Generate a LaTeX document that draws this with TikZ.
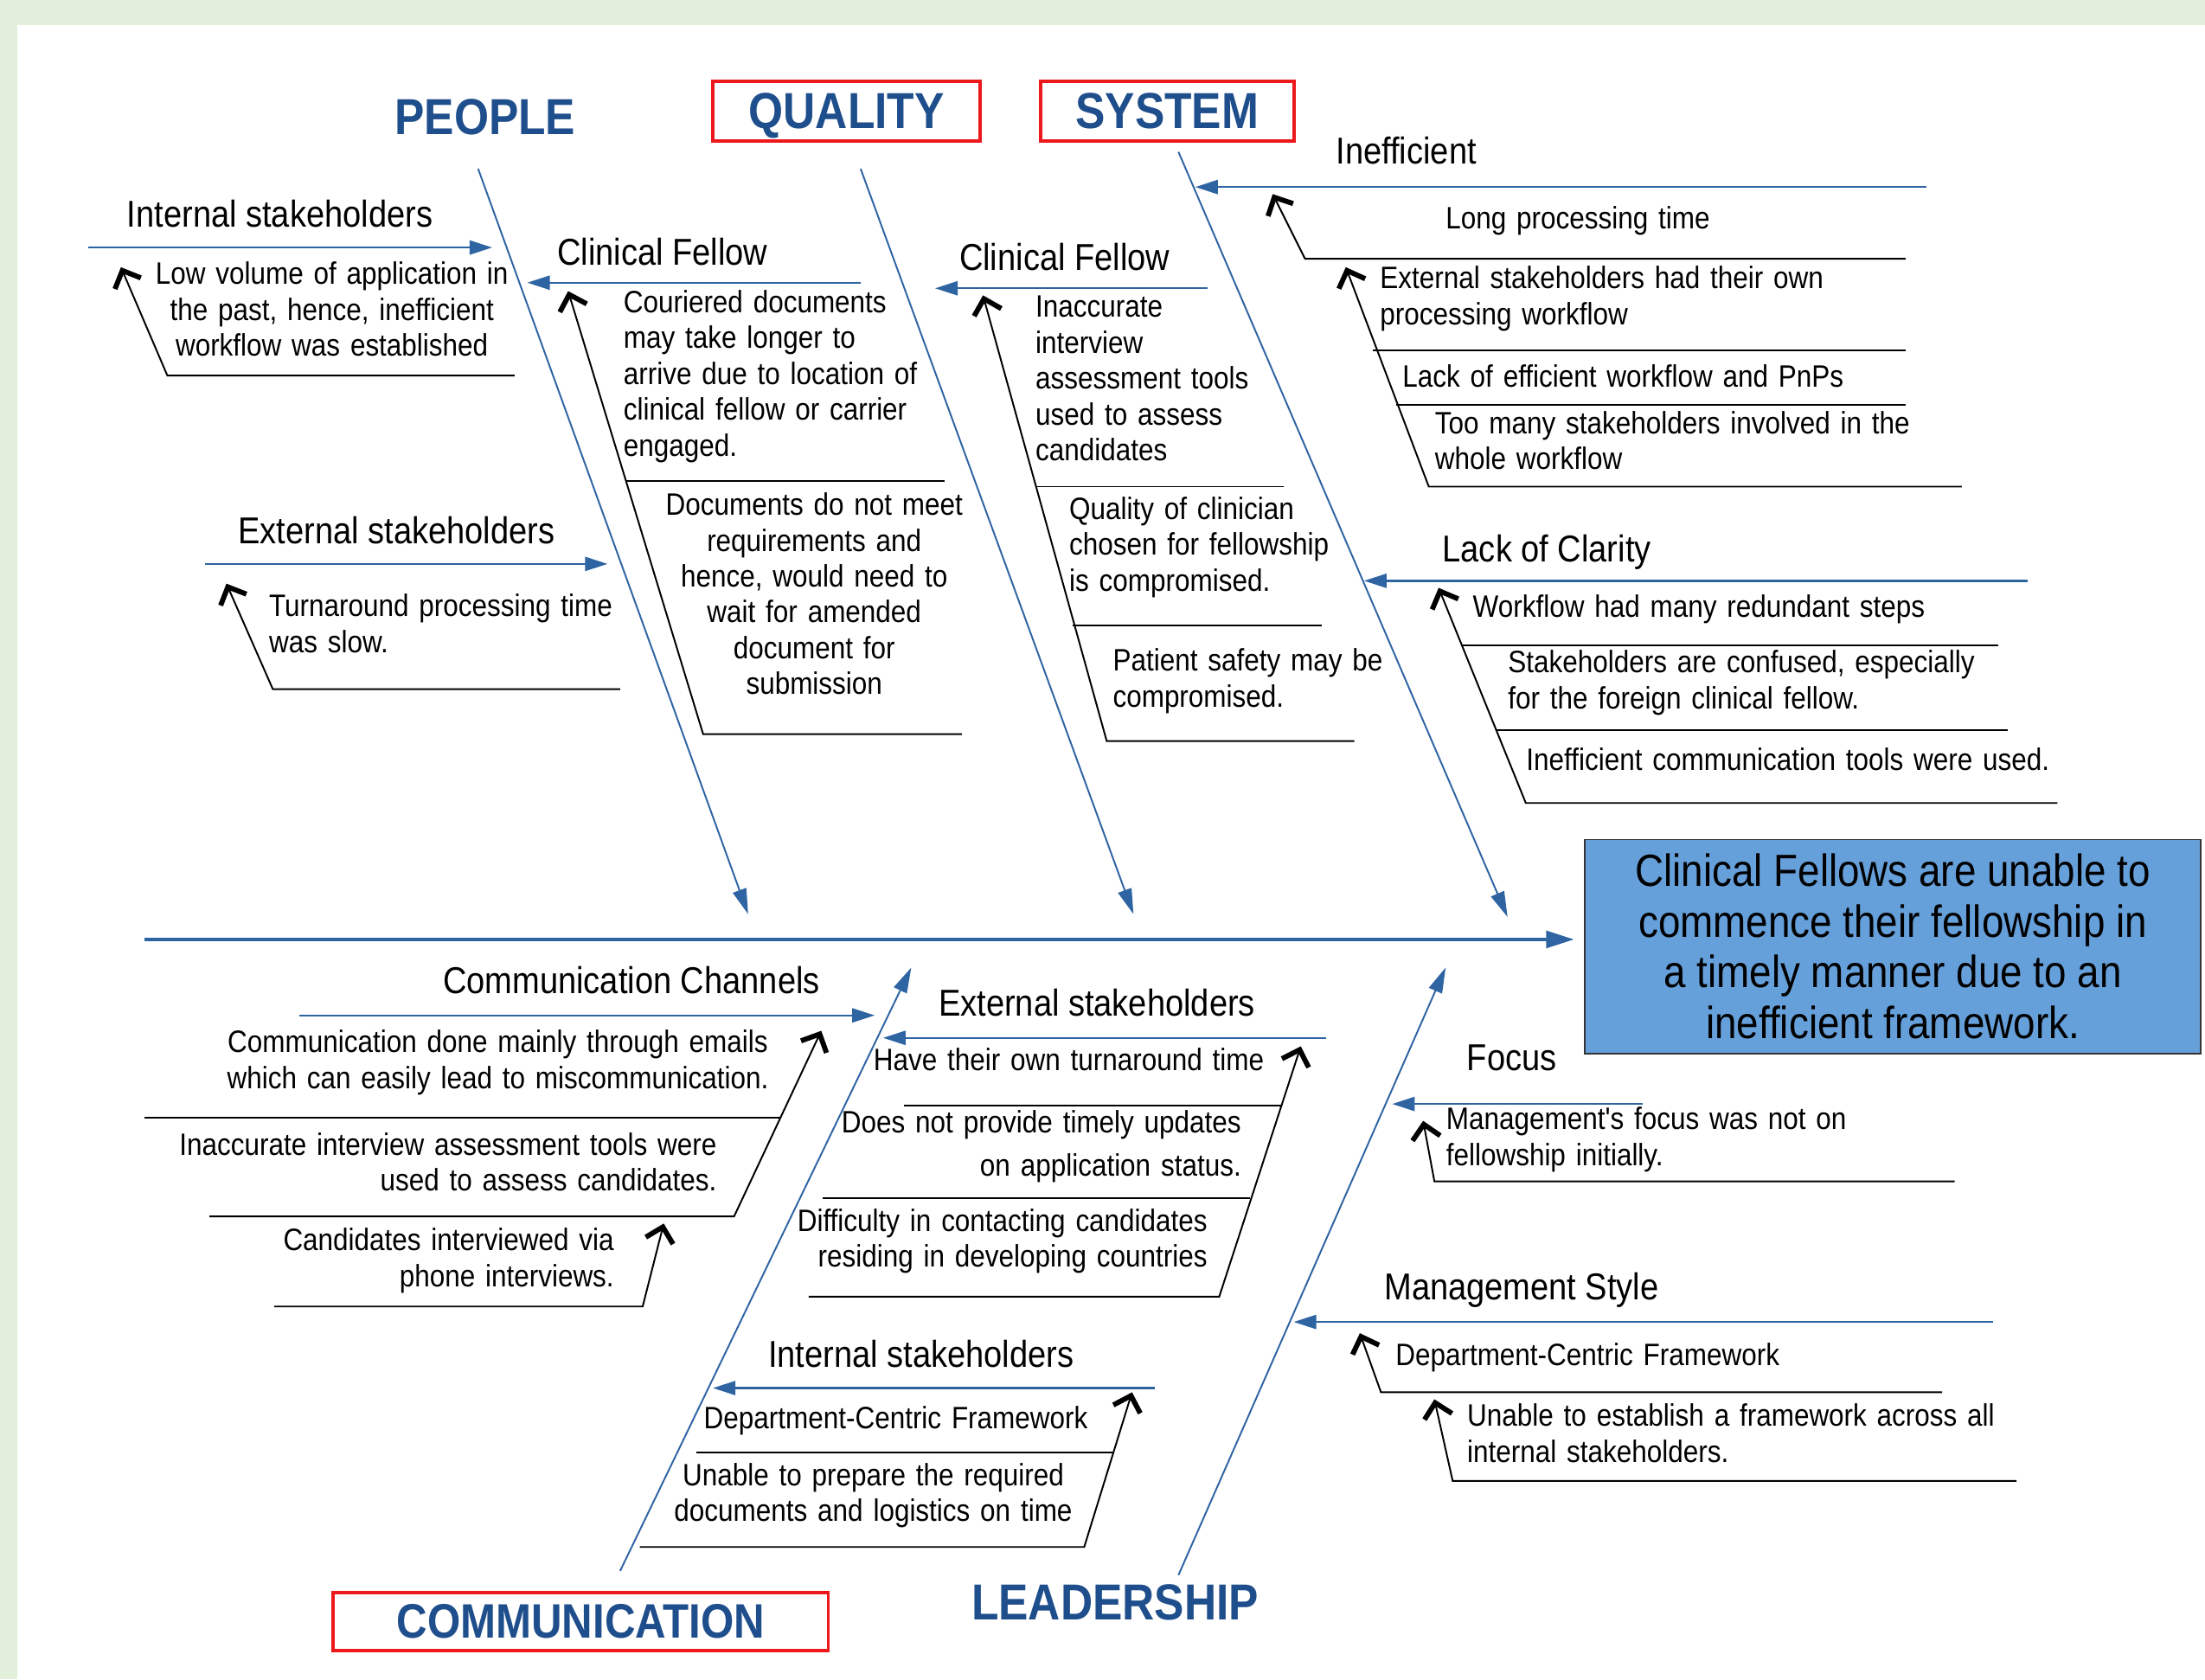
\documentclass[tikz,border=0pt]{standalone}
\usepackage{fontspec}
\setmainfont[FakeStretch=0.88]{Liberation Sans}
\newfontfamily\causefont[FakeStretch=0.88,WordSpace=1.35]{Liberation Sans}
\usetikzlibrary{arrows.meta}
\definecolor{bonecol}{RGB}{47,100,163}
\definecolor{catcol}{RGB}{31,78,140}
\definecolor{framecol}{RGB}{226,239,218}
\definecolor{effectcol}{RGB}{102,160,218}
\definecolor{redline}{RGB}{236,24,28}
\tikzset{
  bone/.style={draw=bonecol, line width=0.6pt, -{Triangle[length=9pt,width=5pt]}},
  subbone/.style={draw=bonecol, line width=0.7pt, -{Triangle[length=8pt,width=5pt]}},
  spine/.style={draw=bonecol, line width=1.3pt, -{Triangle[length=10pt,width=6pt]}, shorten >=3.5pt},
  branch/.style={draw=black, line width=0.6pt, -{Straight Barb[length=5pt,width=10pt,line width=1.8pt]}},
  rule/.style={draw=black, line width=0.6pt},
  catlbl/.style={font=\fontsize{18}{20}\selectfont\bfseries, text=catcol, inner sep=0pt, text depth=0pt},
  catbox/.style={catlbl, draw=redline, line width=1.2pt, minimum height=21pt},
  head/.style={font=\fontsize{13.3}{15}\selectfont, inner sep=0pt, anchor=base},
  cause/.style={font=\causefont\fontsize{11}{12.75}\selectfont, inner sep=0pt},
  effectbox/.style={fill=effectcol, draw=black!80, line width=0.6pt, minimum width=219pt,
    minimum height=76pt, align=center, inner sep=0pt, font=\fontsize{16}{18}\selectfont}
}
\begin{document}
\begin{tikzpicture}[x=0.5pt,y=-0.5pt]
\useasboundingbox (0,0) rectangle (1568,1194);
\fill[framecol] (0,0) rectangle (1568,1194);
\fill[white] (12,18) rectangle (1568,1194);

% categories and effect
\node[catlbl] (people) at (345,83) {PEOPLE};
\node[catbox, minimum width=95pt] (quality) at (602,79) {QUALITY};
\node[catbox, minimum width=90pt] (system) at (830,79) {SYSTEM};
\node[catbox, minimum width=176pt, minimum height=20.5pt, font=\fontsize{17.2}{18}\selectfont\bfseries] (communication) at (413,1153) {COMMUNICATION};
\node[catlbl] (leadership) at (793,1139) {LEADERSHIP};
\node[effectbox] (effect) at (1346,673) {Clinical Fellows are unable to\\commence their fellowship in\\a timely manner due to an\\inefficient framework.};

% main bones
\coordinate (spineL) at (103,668);
\coordinate (pplA) at (340,120); \coordinate (pplB) at (532,650);
\coordinate (qalA) at (612,120); \coordinate (qalB) at (806,650);
\coordinate (sysA) at (838,108); \coordinate (sysB) at (1072,652);
\coordinate (comA) at (441,1117); \coordinate (comB) at (648,688);
\coordinate (ldrA) at (838,1120); \coordinate (ldrB) at (1028,688);
\draw[spine] (spineL) -- (spineL -| effect.west);
\draw[bone] (pplA) -- (pplB);
\draw[bone] (qalA) -- (qalB);
\draw[bone] (sysA) -- (sysB);
\draw[bone] (comA) -- (comB);
\draw[bone] (ldrA) -- (ldrB);

% PEOPLE
\node[head] (p1head) at (199,161.5) {Internal stakeholders};
\coordinate (p1s) at (63,176); \coordinate (p1e) at (350,176);
\draw[subbone] (p1s) -- (p1e);
\coordinate (p1r) at (366,267); \coordinate (p1k) at (119,267); \coordinate (p1t) at (86,190);
\draw[branch] (p1r) -- (p1k) -- (p1t);
\node[cause, anchor=north, align=center] (p1a) at (236,186) {Low volume of application in\\the past, hence, inefficient\\workflow was established};

\node[head] (p2head) at (282,386.5) {External stakeholders};
\coordinate (p2s) at (146,401); \coordinate (p2e) at (432,401);
\draw[subbone] (p2s) -- (p2e);
\coordinate (p2r) at (441,490); \coordinate (p2k) at (194,490); \coordinate (p2t) at (161,415);
\draw[branch] (p2r) -- (p2k) -- (p2t);
\node[cause, anchor=north west, align=left] (p2a) at (191,422) {Turnaround processing time\\was slow.};

% QUALITY
\node[head] (q1head) at (471,188.5) {Clinical Fellow};
\coordinate (q1s) at (612,201); \coordinate (q1e) at (375,201);
\draw[subbone] (q1s) -- (q1e);
\coordinate (q1r) at (684,522); \coordinate (q1k) at (500,522); \coordinate (q1t) at (404,207);
\draw[branch] (q1r) -- (q1k) -- (q1t);
\coordinate (q1m) at (445,342); \coordinate (q1n) at (672,342);
\draw[rule] (q1m) -- (q1n);
\node[cause, anchor=north west, align=left] (q1a) at (443,206) {Couriered documents\\may take longer to\\arrive due to location of\\clinical fellow or carrier\\engaged.};
\node[cause, anchor=north, align=center] (q1b) at (579,350) {Documents do not meet\\requirements and\\hence, would need to\\wait for amended\\document for\\submission};

\node[head] (q2head) at (757,192.5) {Clinical Fellow};
\coordinate (q2s) at (859,205); \coordinate (q2e) at (665,205);
\draw[subbone] (q2s) -- (q2e);
\coordinate (q2r) at (963,527); \coordinate (q2k) at (787,527); \coordinate (q2t) at (699,210);
\draw[branch] (q2r) -- (q2k) -- (q2t);
\coordinate (q2m) at (737,346); \coordinate (q2n) at (913,346);
\coordinate (q2o) at (763,445); \coordinate (q2p) at (940,445);
\draw[rule] (q2m) -- (q2n);
\draw[rule] (q2o) -- (q2p);
\node[cause, anchor=north west, align=left] (q2a) at (736,210) {Inaccurate\\interview\\assessment tools\\used to assess\\candidates};
\node[cause, anchor=north west, align=left] (q2b) at (760,353) {Quality of clinician\\chosen for fellowship\\is compromised.};
\node[cause, anchor=north west, align=left] (q2c) at (791,461) {Patient safety may be\\compromised.};

% SYSTEM
\node[head] (s1head) at (1000,116.5) {Inefficient};
\coordinate (s1s) at (1370,133); \coordinate (s1e) at (850,133);
\draw[subbone] (s1s) -- (s1e);
\coordinate (s1r) at (1355,184); \coordinate (s1k) at (928,184); \coordinate (s1t) at (905,138);
\draw[branch] (s1r) -- (s1k) -- (s1t);
\coordinate (s1u) at (1395,346); \coordinate (s1v) at (1016,346); \coordinate (s1w) at (957,190);
\draw[branch] (s1u) -- (s1v) -- (s1w);
\coordinate (s1m) at (976,249); \coordinate (s1n) at (1355,249);
\coordinate (s1o) at (993,288); \coordinate (s1p) at (1355,288);
\draw[rule] (s1m) -- (s1n);
\draw[rule] (s1o) -- (s1p);
\node[cause, anchor=base] (s1a) at (1122,163) {Long processing time};
\node[cause, anchor=north west, align=left] (s1b) at (981,189) {External stakeholders had their own\\processing workflow};
\node[cause, anchor=base west] (s1c) at (997,275) {Lack of efficient workflow and PnPs};
\node[cause, anchor=north west, align=left] (s1d) at (1020,292) {Too many stakeholders involved in the\\whole workflow};

\node[head] (s2head) at (1100,399.5) {Lack of Clarity};
\coordinate (s2s) at (1442,413); \coordinate (s2e) at (970,413);
\draw[subbone] (s2s) -- (s2e);
\coordinate (s2r) at (1463,571); \coordinate (s2k) at (1085,571); \coordinate (s2t) at (1023,418);
\draw[branch] (s2r) -- (s2k) -- (s2t);
\coordinate (s2m) at (1040,459); \coordinate (s2n) at (1421,459);
\coordinate (s2o) at (1064,519); \coordinate (s2p) at (1428,519);
\draw[rule] (s2m) -- (s2n);
\draw[rule] (s2o) -- (s2p);
\node[cause, anchor=base west] (s2a) at (1047,439) {Workflow had many redundant steps};
\node[cause, anchor=north west, align=left] (s2b) at (1072,462) {Stakeholders are confused, especially\\for the foreign clinical fellow.};
\node[cause, anchor=base west] (s2c) at (1085,548) {Inefficient communication tools were used.};

% COMMUNICATION
\node[head] (c1head) at (449,706.5) {Communication Channels};
\coordinate (c1s) at (213,722); \coordinate (c1e) at (622,722);
\draw[subbone] (c1s) -- (c1e);
\coordinate (c1r) at (149,865); \coordinate (c1k) at (522,865); \coordinate (c1t) at (584,733);
\draw[branch] (c1r) -- (c1k) -- (c1t);
\coordinate (c1u) at (195,929); \coordinate (c1v) at (457,929); \coordinate (c1w) at (472,870);
\draw[branch] (c1u) -- (c1v) -- (c1w);
\coordinate (c1m) at (103,795); \coordinate (c1n) at (555,795);
\draw[rule] (c1m) -- (c1n);
\node[cause, anchor=north, align=center] (c1a) at (354,732) {Communication done mainly through emails\\which can easily lead to miscommunication.};
\node[cause, anchor=north east, align=right] (c1b) at (510,805) {Inaccurate interview assessment tools were\\used to assess candidates.};
\node[cause, anchor=north east, align=right] (c1c) at (437,873) {Candidates interviewed via\\phone interviews.};

\node[head] (c2head) at (780,722.5) {External stakeholders};
\coordinate (c2s) at (943,738); \coordinate (c2e) at (628,738);
\draw[subbone] (c2s) -- (c2e);
\coordinate (c2r) at (575,922); \coordinate (c2k) at (867,922); \coordinate (c2t) at (925,744);
\draw[branch] (c2r) -- (c2k) -- (c2t);
\coordinate (c2m) at (643,786); \coordinate (c2n) at (911,786);
\coordinate (c2o) at (585,852); \coordinate (c2p) at (889,852);
\draw[rule] (c2m) -- (c2n);
\draw[rule] (c2o) -- (c2p);
\node[cause, anchor=base] (c2a) at (760,761) {Have their own turnaround time};
\node[cause, anchor=north east, align=right] (c2b) at (883,789) {Does not provide timely updates\\[2.75pt]on application status.};
\node[cause, anchor=north east, align=right] (c2c) at (859,859) {Difficulty in contacting candidates\\residing in developing countries};

\node[head] (c3head) at (655,972.5) {Internal stakeholders};
\coordinate (c3s) at (821,987); \coordinate (c3e) at (507,987);
\draw[subbone] (c3s) -- (c3e);
\coordinate (c3r) at (455,1100); \coordinate (c3k) at (771,1100); \coordinate (c3t) at (805,990);
\draw[branch] (c3r) -- (c3k) -- (c3t);
\coordinate (c3m) at (495,1033); \coordinate (c3n) at (791,1033);
\draw[rule] (c3m) -- (c3n);
\node[cause, anchor=base] (c3a) at (637,1016) {Department-Centric Framework};
\node[cause, anchor=north, align=center] (c3b) at (621,1040) {Unable to prepare the required\\documents and logistics on time};

% LEADERSHIP
\node[head] (l1head) at (1075,761.5) {Focus};
\coordinate (l1s) at (1168,785); \coordinate (l1e) at (990,785);
\draw[subbone] (l1s) -- (l1e);
\coordinate (l1r) at (1390,840); \coordinate (l1k) at (1020,840); \coordinate (l1t) at (1012,797);
\draw[branch] (l1r) -- (l1k) -- (l1t);
\node[cause, anchor=north west, align=left] (l1a) at (1028,787) {Management's focus was not on\\fellowship initially.};

\node[head] (l2head) at (1082,924.5) {Management Style};
\coordinate (l2s) at (1417,940); \coordinate (l2e) at (920,940);
\draw[subbone] (l2s) -- (l2e);
\coordinate (l2r) at (1381,990); \coordinate (l2k) at (982,990); \coordinate (l2t) at (967,948);
\draw[branch] (l2r) -- (l2k) -- (l2t);
\coordinate (l2u) at (1434,1053); \coordinate (l2v) at (1033,1053); \coordinate (l2w) at (1020,995);
\draw[branch] (l2u) -- (l2v) -- (l2w);
\node[cause, anchor=base west] (l2a) at (992,971) {Department-Centric Framework};
\node[cause, anchor=north west, align=left] (l2b) at (1043,998) {Unable to establish a framework across all\\internal stakeholders.};
\end{tikzpicture}
\end{document}
